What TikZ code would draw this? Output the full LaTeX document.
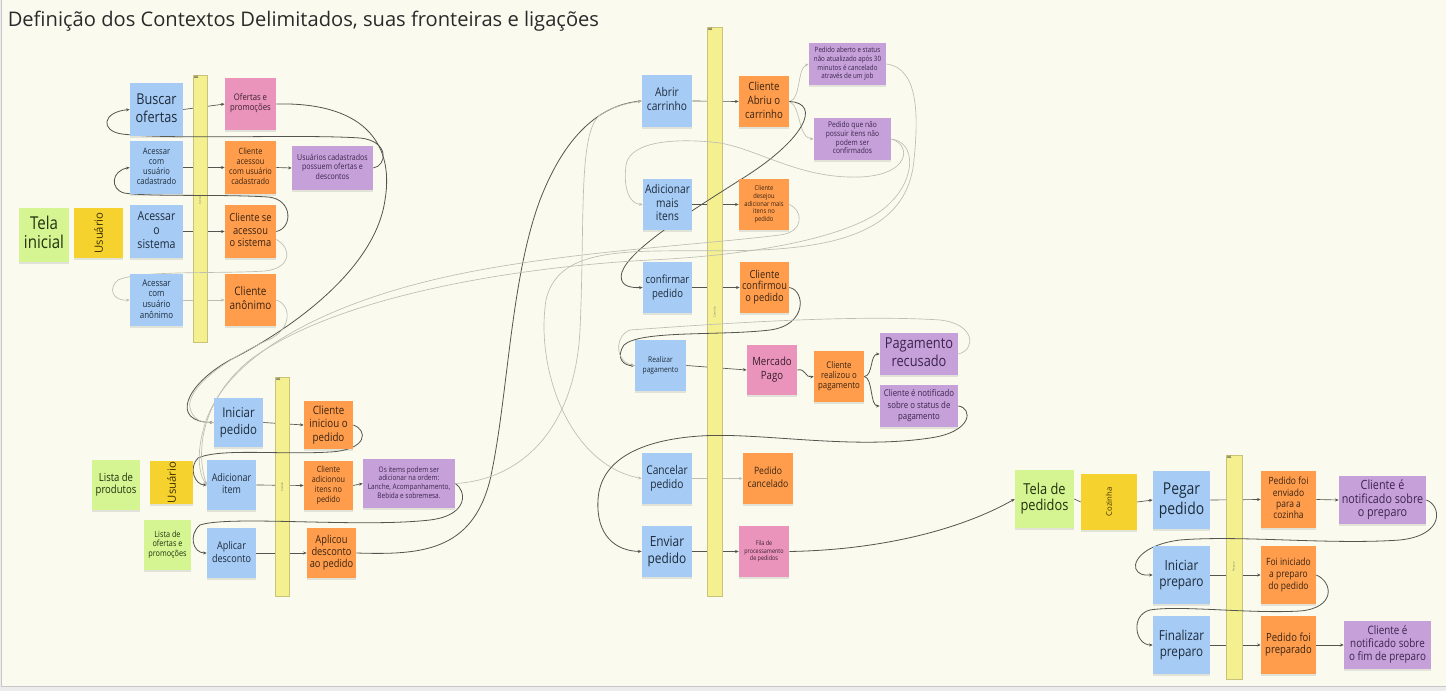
\documentclass[tikz,border=0pt]{standalone}
\usepackage{fontspec}
\usepackage{graphicx}
\setmainfont{Open Sans}
\usetikzlibrary{arrows.meta,shadows,calc}
\definecolor{cBg}{HTML}{FAFBEE}
\definecolor{cEdge}{HTML}{ECECEC}
\definecolor{cBlue}{HTML}{A6CCF5}
\definecolor{cOrange}{HTML}{FF9D4D}
\definecolor{cPink}{HTML}{EA94BB}
\definecolor{cPurple}{HTML}{C6A1D9}
\definecolor{cGreen}{HTML}{D4F592}
\definecolor{cYel}{HTML}{F6D22E}
\definecolor{cBar}{HTML}{F4EF8F}
\definecolor{cBarE}{HTML}{C9C37A}
\definecolor{tBlue}{HTML}{1E2B3C}
\definecolor{tOrange}{HTML}{3A2412}
\definecolor{tPurple}{HTML}{3C2450}
\definecolor{tPink}{HTML}{3A1F2C}
\definecolor{tGreen}{HTML}{22300E}
\definecolor{tYel}{HTML}{3A3000}
\definecolor{cDark}{HTML}{55554F}
\definecolor{cLight}{HTML}{BEBEB2}
\definecolor{cTitle}{HTML}{2A2A2A}
\pgfdeclarelayer{back}
\pgfdeclarelayer{straight}
\pgfdeclarelayer{bars}
\pgfdeclarelayer{curves}
\pgfsetlayers{back,straight,bars,curves,main}
\newcommand\tx[1]{\scalebox{0.85}[1]{\begin{tabular}{@{}c@{}}#1\end{tabular}}}
\newcommand\stk[9]{\node[#6, minimum width={(#4-#2)*0.75pt}, minimum height={(#5-#3)*0.75pt}, font={\fontsize{#7}{#8}\selectfont}] (#1) at ({(#2+#4)/2},{(#3+#5)/2}) {\tx{#9}};}
\newcommand\stkr[8]{\node[#6, minimum width={(#4-#2)*0.75pt}, minimum height={(#5-#3)*0.75pt}, font={\fontsize{#7}{#7}\selectfont}] (#1) at ({(#2+#4)/2},{(#3+#5)/2}) {\rotatebox{90}{#8}};}
\newcommand\aggbar[5]{\node[barbox, minimum width={(#4-#2)*0.75pt}, minimum height={(#5-#3)*0.75pt}] (#1) at ({(#2+#4)/2},{(#3+#5)/2}) {};}
\tikzset{
  sticky/.style={rectangle, inner sep=0pt, align=center,
    drop shadow={opacity=0.2, shadow xshift=0.2pt, shadow yshift=-1.6pt}},
  sblue/.style={sticky, fill=cBlue, text=tBlue},
  sorange/.style={sticky, fill=cOrange, text=tOrange},
  spink/.style={sticky, fill=cPink, text=tPink},
  spurple/.style={sticky, fill=cPurple, text=tPurple},
  sgreen/.style={sticky, fill=cGreen, text=tGreen},
  syel/.style={sticky, fill=cYel, text=tYel},
  barbox/.style={rectangle, inner sep=0pt, fill=cBar, draw=cBarE, line width=0.4pt},
  aglab/.style={inner sep=0.8pt, font=\fontsize{2.4}{3}\selectfont\bfseries, text=black!70},
  barlab/.style={inner sep=0pt, font=\fontsize{2}{2.4}\selectfont, text=black!55},
  arr/.style={-{Stealth[length=2.8pt,width=2.3pt]}},
  ln/.style={draw=cDark, line width=0.5pt},
  lnl/.style={draw=cLight, line width=0.5pt},
  cvd/.style={draw=cDark, line width=0.6pt},
  cvl/.style={draw=cLight, line width=0.5pt},
}
\begin{document}
\begin{tikzpicture}[x=0.75pt,y=-0.75pt]
\useasboundingbox (0,0) rectangle (1446,691);
\begin{pgfonlayer}{back}
\fill[cEdge] (0,0) rectangle (1446,691);
\fill[cBg] (1.5,0) rectangle (1446,686);
\draw[black!22, line width=0.5pt] (1.5,0) -- (1.5,686) -- (1446,686);
\end{pgfonlayer}

\node[anchor=base west, inner sep=0pt, font=\fontsize{15.1}{18}\selectfont, text=cTitle] (title) at (7.5,27) {Definição dos Contextos Delimitados, suas fronteiras e ligações};

% ---------- group 1 ----------
\stk{ti}{19}{208}{69}{262}{sgreen}{13.3}{14.5}{Tela\\inicial}
\stkr{us1}{74}{208}{123}{258}{syel}{8.5}{Usuário}
\stk{bo}{130}{83}{183}{136}{sblue}{11.2}{13.5}{Buscar\\ofertas}
\stk{acad}{130}{141}{183}{194}{sblue}{6.7}{7.5}{Acessar\\com\\usuário\\cadastrado}
\stk{as}{130}{205}{183}{258}{sblue}{9.3}{10.5}{Acessar\\o\\sistema}
\stk{acan}{130}{274}{183}{326}{sblue}{7}{8}{Acessar\\com\\usuário\\anônimo}
\stk{op}{225}{78}{276}{130}{spink}{6.8}{7.5}{Ofertas e\\promoções}
\stk{cau}{225}{141}{276}{194}{sorange}{6.5}{7.4}{Cliente\\acessou\\com usuário\\cadastrado}
\stk{uc}{292}{146}{373}{190}{spurple}{6.2}{6.9}{Usuários cadastrados\\possuem ofertas e\\descontos}
\stk{csa}{225}{205}{276}{258}{sorange}{8.2}{9.4}{Cliente se\\acessou\\o sistema}
\stk{can}{225}{274}{276}{326}{sorange}{8.8}{10.5}{Cliente\\anônimo}

% ---------- group 2 ----------
\stk{lp}{92}{460}{140}{510}{sgreen}{8.4}{9.3}{Lista de\\produtos}
\stkr{us2}{150}{461}{193}{504}{syel}{8.5}{Usuário}
\stk{ip}{214}{398}{263}{447}{sblue}{10.1}{13.3}{Iniciar\\pedido}
\stk{ai}{207}{460}{256}{510}{sblue}{7.9}{9.3}{Adicionar\\item}
\stk{lop}{144}{520}{191}{570}{sgreen}{6.4}{7}{Lista de\\ofertas e\\promoções}
\stk{ad}{207}{528}{256}{578}{sblue}{8}{10}{Aplicar\\desconto}
\stk{cip}{304}{401}{353}{449}{sorange}{8.6}{10}{Cliente\\iniciou o\\pedido}
\stk{cai}{304}{461}{353}{510}{sorange}{6.4}{7.5}{Cliente\\adicionou\\itens no\\pedido}
\stk{oi}{363}{459}{455}{508}{spurple}{5.7}{6.5}{Os items podem ser\\adicionar na ordem:\\Lanche, Acompanhamento,\\Bebida e sobremesa.}
\stk{adp}{307}{528}{356}{578}{sorange}{8.2}{8.6}{Aplicou\\desconto\\ao pedido}

% ---------- group 3 ----------
\stk{ac}{642}{75}{692}{127}{sblue}{9}{10.7}{Abrir\\carrinho}
\stk{ca}{739}{76}{789}{127}{sorange}{8.5}{10.5}{Cliente\\Abriu o\\carrinho}
\stk{pa}{809}{43}{886}{85}{spurple}{5.5}{6.5}{Pedido aberto e status\\não atualizado após 30\\minutos é cancelado\\através de um job}
\stk{pq}{814}{118}{891}{160}{spurple}{5.9}{6.6}{Pedido que não\\possuir itens não\\podem ser\\confirmados}
\stk{ami}{643}{179}{692}{230}{sblue}{9}{10}{Adicionar\\mais\\itens}
\stk{cd}{739}{179}{789}{230}{sorange}{5.1}{5.9}{Cliente\\desejou\\adicionar mais\\itens no\\pedido}
\stk{cf}{643}{262}{692}{313}{sblue}{8.4}{10.5}{confirmar\\pedido}
\stk{cc}{740}{262}{789}{313}{sorange}{8.2}{8.8}{Cliente\\confirmou\\o pedido}
\stk{rp}{635}{340}{686}{391}{sblue}{5.9}{8}{Realizar\\pagamento}
\stk{mp}{747}{345}{797}{395}{spink}{8.5}{10}{Mercado\\Pago}
\stk{cr}{814}{351}{864}{402}{sorange}{6.9}{7.6}{Cliente\\realizou o\\pagamento}
\stk{pr}{880}{333}{958}{375}{spurple}{11.3}{13.3}{Pagamento\\recusado}
\stk{cn}{880}{385}{958}{427}{spurple}{6.9}{8.5}{Cliente é notificado\\sobre o status de\\pagamento}
\stk{cp}{642}{453}{692}{504}{sblue}{9}{10.5}{Cancelar\\pedido}
\stk{pc}{743}{453}{793}{504}{sorange}{7.6}{9.3}{Pedido\\cancelado}
\stk{ep}{642}{526}{692}{577}{sblue}{10.5}{13}{Enviar\\pedido}
\stk{fp}{739}{526}{789}{577}{spink}{4.8}{5.8}{Fila de\\processamento\\de pedidos}

% ---------- group 4 ----------
\stk{tp}{1015}{470}{1074}{528}{sgreen}{11.3}{12.5}{Tela de\\pedidos}
\stkr{coz}{1081}{474}{1137}{530}{syel}{5.8}{Cozinha}
\stk{pgp}{1153}{471}{1210}{529}{sblue}{12.3}{15}{Pegar\\pedido}
\stk{pfe}{1261}{471}{1316}{528}{sorange}{7.5}{8.6}{Pedido foi\\enviado\\para a\\cozinha}
\stk{cnp}{1339}{476}{1426}{524}{spurple}{9.5}{9.9}{Cliente é\\notificado sobre\\o preparo}
\stk{ipr}{1153}{546}{1210}{604}{sblue}{10.5}{12.5}{Iniciar\\preparo}
\stk{fi}{1261}{546}{1316}{604}{sorange}{7.5}{8.9}{Foi iniciado\\a preparo\\do pedido}
\stk{fpr}{1153}{616}{1210}{674}{sblue}{10.3}{12.5}{Finalizar\\preparo}
\stk{pfp}{1261}{616}{1316}{674}{sorange}{8.4}{9.5}{Pedido foi\\preparado}
\stk{cnf}{1344}{621}{1431}{669}{spurple}{8.7}{9.6}{Cliente é\\notificado sobre\\o fim de preparo}

% ---------- aggregate bars ----------
\begin{pgfonlayer}{bars}
\aggbar{bar1}{193}{75}{207}{342}
\aggbar{bar2}{275}{377}{289}{596}
\aggbar{bar3}{707}{27}{722}{596}
\aggbar{bar4}{1226}{455}{1242}{679}
\node[aglab, anchor=north west] (ag1) at (bar1.north west) {AG};
\node[aglab, anchor=north west] (ag2) at (bar2.north west) {AG};
\node[aglab, anchor=north west] (ag3) at (bar3.north west) {AG};
\node[aglab, anchor=north west] (ag4) at (bar4.north west) {AG};
\node[barlab, rotate=90] (bl1) at (200,200) {Acesso};
\node[barlab, rotate=90] (bl2) at (282,487) {Pedido};
\node[barlab, rotate=90] (bl3) at (714.5,312) {Carrinho};
\node[barlab, rotate=90] (bl4) at (1234,567) {Preparo};
\end{pgfonlayer}

% ---------- straight connectors ----------
\begin{pgfonlayer}{straight}
\draw[ln,arr] (bo.east) -- (op.west);
\draw[ln,arr] (acad.east) -- (cau.west);
\draw[ln,arr] (cau.east) -- (uc.west);
\draw[ln,arr] (as.east) -- (csa.west);
\draw[lnl,arr] (acan.east) -- (can.west);
\draw[ln,arr] (ip.east) -- (cip.west);
\draw[ln,arr] (ai.east) -- (cai.west);
\draw[ln,arr] (cai.east) -- (oi.west);
\draw[ln,arr] (ad.east) -- (adp.west);
\draw[ln,arr] (ac.east) -- (ca.west);
\draw[ln,arr] (ami.east) -- (cd.west);
\draw[ln,arr] (cf.east) -- (cc.west);
\draw[ln,arr] (rp.east) -- (mp.west);
\draw[lnl,arr] (cp.east) -- (pc.west);
\draw[ln,arr] (ep.east) -- (fp.west);
\draw[ln] (tp.east) -- (coz.west);
\draw[ln,arr] (coz.east) -- (pgp.west);
\draw[ln,arr] (pgp.east) -- (pfe.west);
\draw[ln,arr] (pfe.east) -- (cnp.west);
\draw[ln,arr] (ipr.east) -- (fi.west);
\draw[ln,arr] (fpr.east) -- (pfp.west);
\draw[ln,arr] (pfp.east) -- (cnf.west);
\end{pgfonlayer}

% ---------- curved connectors ----------
\begin{pgfonlayer}{curves}
% group 1
\draw[cvd,arr] (uc.east) .. controls (387,166) and (390,141) .. (360,138) .. controls (300,134) and (170,140) .. (122,134) .. controls (100,131) and (102,112) .. (bo.west);
\draw[cvd,arr] (csa.east) .. controls (293,228) and (293,199) .. (268,197) .. controls (220,194) and (150,197) .. (124,193) .. controls (110,189) and (111,171) .. (acad.west);
\draw[cvl,arr] ($(csa.east)+(0,8)$) .. controls (292,248) and (292,268) .. (265,271) .. controls (220,274) and (140,270) .. (118,280) .. controls (108,288) and (112,301) .. (acan.west);
\draw[cvd,arr] (op.east) .. controls (360,102) and (395,140) .. (385,200) .. controls (375,270) and (290,330) .. (230,360) .. controls (185,385) and (170,422) .. (ip.west);
\draw[cvl,arr] (can.east) .. controls (292,305) and (292,330) .. (268,340) .. controls (220,362) and (186,390) .. (190,408) .. controls (193,420) and (202,423) .. (ip.west);
% group 2
\draw[cvd,arr] (cip.east) .. controls (368,430) and (368,450) .. (330,452) .. controls (280,455) and (220,448) .. (198,458) .. controls (188,468) and (195,485) .. (ai.west);
\draw[cvd,arr] (oi.east) .. controls (466,490) and (470,515) .. (430,520) .. controls (360,528) and (230,515) .. (200,525) .. controls (188,535) and (193,553) .. (ad.west);
\draw[cvd,arr] (adp.east) .. controls (420,555) and (472,552) .. (490,480) .. controls (508,400) and (510,280) .. (540,200) .. controls (565,135) and (600,105) .. (ac.west);
\draw[cvl,arr] (oi.east) .. controls (520,480) and (575,430) .. (580,330) .. controls (585,220) and (578,132) .. (600,115) .. controls (615,105) and (630,103) .. (ac.west);
% group 3
\draw[cvl,arr] (ca.east) .. controls (801,100) and (797,68) .. (pa.west);
\draw[cvl,arr] (ca.east) .. controls (801,106) and (798,138) .. (pq.west);
\draw[cvd,arr] (ca.east) .. controls (822,103) and (805,140) .. (740,180) .. controls (680,218) and (630,250) .. (622,272) .. controls (618,286) and (630,288) .. (cf.west);
\draw[cvl,arr] (pa.east) .. controls (920,68) and (918,120) .. (914,160) .. controls (908,225) and (850,246) .. (760,250) .. controls (650,254) and (560,238) .. (546,300) .. controls (535,370) and (570,465) .. (cp.west);
\draw[cvl,arr] (pq.east) .. controls (916,142) and (916,178) .. (890,203) .. controls (860,235) and (760,255) .. (650,260) .. controls (500,268) and (330,300) .. (250,360) .. controls (212,390) and (192,440) .. (ai.west);
\draw[cvl,arr] (pq.east) .. controls (912,145) and (910,175) .. (860,177) .. controls (800,179) and (760,150) .. (720,143) .. controls (680,138) and (630,140) .. (626,165) .. controls (623,190) and (630,204) .. (ami.west);
\draw[cvl,arr] (cd.east) .. controls (803,210) and (805,232) .. (780,235) .. controls (700,245) and (560,252) .. (450,276) .. controls (330,302) and (232,352) .. (207,418) .. controls (198,442) and (196,470) .. (ai.west);
\draw[cvd,arr] (cc.east) .. controls (805,290) and (808,325) .. (770,330) .. controls (720,336) and (640,330) .. (624,345) .. controls (615,358) and (624,366) .. (rp.west);
\draw[cvl,arr] (pr.east) .. controls (976,350) and (976,324) .. (940,320) .. controls (850,314) and (700,325) .. (630,330) .. controls (614,336) and (615,362) .. (rp.west);
\draw[cvd,arr] (mp.east) .. controls (806,368) and (805,378) .. (cr.west);
\draw[cvd,arr] (cr.east) .. controls (873,376) and (870,354) .. (pr.west);
\draw[cvd,arr] (cr.east) .. controls (873,378) and (870,406) .. (cn.west);
\draw[cvd,arr] (cn.east) .. controls (973,408) and (973,432) .. (930,438) .. controls (850,450) and (760,432) .. (700,436) .. controls (640,440) and (600,460) .. (598,500) .. controls (596,535) and (615,551) .. (ep.west);
\draw[cvd,arr] (fp.east) .. controls (880,550) and (960,530) .. (tp.west);
% group 4
\draw[cvd,arr] (cnp.east) .. controls (1441,505) and (1446,535) .. (1400,540) .. controls (1330,545) and (1240,535) .. (1180,540) .. controls (1140,545) and (1130,565) .. (1138,572) .. controls (1142,576) and (1148,575) .. (ipr.west);
\draw[cvd,arr] (fi.east) .. controls (1333,582) and (1336,608) .. (1300,611) .. controls (1250,614) and (1180,605) .. (1150,610) .. controls (1130,615) and (1135,645) .. (fpr.west);
\end{pgfonlayer}
\end{tikzpicture}
\end{document}
